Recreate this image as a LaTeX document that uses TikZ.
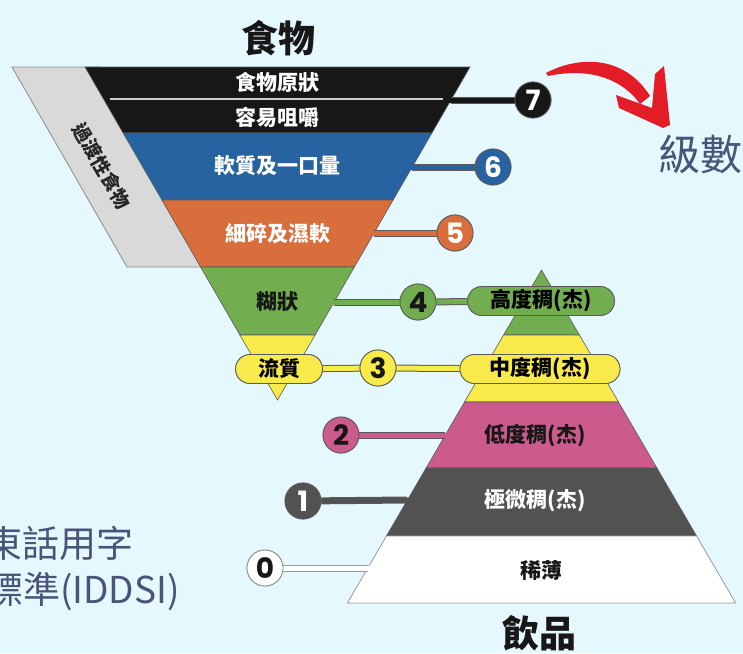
\documentclass[tikz,border=0pt]{standalone}
\usepackage{fontspec}
\usetikzlibrary{shapes.misc}
\newfontfamily\cjk{Noto Sans CJK TC}
\newfontfamily\numf{Poppins}
\definecolor{bgc}{HTML}{E5F8FD}
\definecolor{cblack}{HTML}{171717}
\definecolor{cblue}{HTML}{2763A0}
\definecolor{corange}{HTML}{D86E3C}
\definecolor{cgreen}{HTML}{72AD4F}
\definecolor{cyellow}{HTML}{F8EA4A}
\definecolor{cpink}{HTML}{CC5A8C}
\definecolor{cdark}{HTML}{525252}
\definecolor{cgray}{HTML}{D9D9D9}
\definecolor{cred}{HTML}{E31C27}
\definecolor{slate}{HTML}{4A5478}
\definecolor{edgec}{HTML}{5A5A5A}
\tikzset{
  band/.style={draw=edgec, line width=0.6pt},
  badge/.style={circle, minimum size=36pt, inner sep=0pt, draw=edgec, line width=0.8pt,
    font=\numf\bfseries\fontsize{28}{28}\selectfont},
  pill/.style={rounded rectangle, minimum height=29pt, inner sep=0pt, draw=edgec, line width=0.8pt,
    font=\cjk\bfseries\fontsize{21}{21}\selectfont},
  lbl/.style={font=\cjk\bfseries\fontsize{21}{21}\selectfont, inner sep=0pt},
  connout/.style={draw=edgec, line width=7pt},
  conn/.style={line width=5pt},
  title/.style={font=\cjk\bfseries\fontsize{37}{37}\selectfont, text=cblack, inner sep=0pt},
  side/.style={font=\cjk\fontsize{37}{37}\selectfont, text=slate, inner sep=0pt}
}
\begin{document}
\begin{tikzpicture}[x=1pt,y=-1pt]
\useasboundingbox (0,0) rectangle (743,653);
\fill[bgc] (0,0) rectangle (743,653);
\clip (0,0) rectangle (743,653);

% red arrow
\fill[cred] (546,73) .. controls (580,55) and (625,56) .. (650,96)
  -- (640,104) .. controls (620,76) and (585,68) .. (548,76) -- cycle;
\fill[cred] (616,95) -- (652,108) -- (655,74) -- (664,66) -- (670,125) -- (663,128) -- (619,108) -- cycle;

% transitional food parallelogram
\draw[fill=cgray, draw=black!45, line width=0.8pt] (12,67) -- (100,67) -- (215,267) -- (127,267) -- cycle;
\node[font=\cjk\bfseries\fontsize{19}{19}\selectfont, text=black!85, rotate=-60] (trans) at (102,166) {過渡性食物};

% funnel bands
\fill[cblack, band] (85,67) -- (470,67) -- (431.9,133) -- (123.1,133) -- cycle;
\fill[cblue, band] (123.1,133) -- (431.9,133) -- (393.1,200) -- (161.9,200) -- cycle;
\fill[corange, band] (161.9,200) -- (393.1,200) -- (354.4,267) -- (200.6,267) -- cycle;
\fill[cgreen, band] (200.6,267) -- (354.4,267) -- (315.1,335) -- (239.9,335) -- cycle;
\fill[cyellow, band] (239.9,335) -- (315.1,335) -- (277.5,400) -- cycle;
\draw[white!80!black, line width=1.6pt] (110,99) -- (448,99);

% pyramid bands
\fill[cgreen, band] (541.5,270) -- (579.4,335) -- (503.6,335) -- cycle;
\fill[cyellow, band] (503.6,335) -- (579.4,335) -- (618.5,402) -- (464.5,402) -- cycle;
\fill[cpink, band] (464.5,402) -- (618.5,402) -- (656.9,468) -- (426.1,468) -- cycle;
\fill[cdark, band] (426.1,468) -- (656.9,468) -- (696.6,536) -- (386.4,536) -- cycle;
\fill[white, draw=black!40, line width=0.8pt] (386.4,536) -- (696.6,536) -- (735.6,603) -- (347.4,603) -- cycle;

% edge coordinates
\coordinate (e7) at (451,100);  \coordinate (i7) at (443,100);
\coordinate (e6) at (412,167);  \coordinate (i6) at (404,167);
\coordinate (e5) at (374,233);  \coordinate (i5) at (366,233);
\coordinate (e4) at (334,302);  \coordinate (i4) at (326,302);
\coordinate (e2) at (445,435);  \coordinate (i2) at (453,435);
\coordinate (e1) at (407,500);  \coordinate (i1) at (415,500);
\coordinate (e0) at (368,568);  \coordinate (i0) at (376,568);

% badge and pill outlines (named, used as connector ends)
\path (533,100) node[badge] (c7) {};
\path (493,167) node[badge] (c6) {};
\path (455,233) node[badge] (c5) {};
\path (418,302) node[badge] (c4) {};
\path (378,368) node[badge] (c3) {};
\path (341,435) node[badge] (c2) {};
\path (303,501) node[badge] (c1) {};
\path (265,568) node[badge, draw=black!45] (c0) {};
\node[pill, minimum width=147pt] (p4) at (541,301) {};
\node[pill, minimum width=160pt] (p3b) at (540,369) {};
\node[pill, minimum width=87pt] (p3a) at (279,369) {};

% connectors
\draw[connout] (e7) -- (c7); \draw[conn, cblack] (i7) -- (c7);
\draw[connout] (e6) -- (c6); \draw[conn, cblue] (i6) -- (c6);
\draw[connout] (e5) -- (c5); \draw[conn, corange] (i5) -- (c5);
\draw[connout] (e4) -- (c4); \draw[conn, cgreen] (i4) -- (c4);
\draw[connout] (c4) -- (p4); \draw[conn, cgreen] (c4) -- (p4);
\draw[connout] (p3a) -- (c3); \draw[conn, cyellow] (p3a) -- (c3);
\draw[connout] (c3) -- (p3b); \draw[conn, cyellow] (c3) -- (p3b);
\draw[connout] (c2) -- (e2); \draw[conn, cpink] (c2) -- (i2);
\draw[connout] (c1) -- (e1); \draw[conn, cdark] (c1) -- (i1);
\draw[connout, draw=black!40] (c0) -- (e0); \draw[conn, white] (c0) -- (i0);

% badges and pills on top
\node[badge, fill=cblack, text=white] (d7) at (c7) {7};
\node[badge, fill=cblue, text=white] (d6) at (c6) {6};
\node[badge, fill=corange, text=white] (d5) at (c5) {5};
\node[badge, fill=cgreen, text=cblack] (d4) at (c4) {4};
\node[badge, fill=cyellow, text=cblack] (d3) at (c3) {3};
\node[badge, fill=cpink, text=cblack] (d2) at (c2) {2};
\node[badge, fill=cdark, text=white] (d1) at (c1) {1};
\node[badge, fill=white, text=cblack, draw=black!45] (d0) at (c0) {0};
\node[pill, fill=cgreen, minimum width=147pt] (q4) at (p4) {高度稠(杰)};
\node[pill, fill=cyellow, minimum width=160pt] (q3b) at (p3b) {中度稠(杰)};
\node[pill, fill=cyellow, minimum width=87pt] (q3a) at (p3a) {流質};

% band labels
\node[lbl, text=white] (l7a) at (277.5,82) {食物原狀};
\node[lbl, text=white] (l7b) at (277.5,117) {容易咀嚼};
\node[lbl, text=white] (l6) at (277.5,166) {軟質及一口量};
\node[lbl, text=white] (l5) at (277.5,234) {細碎及濕軟};
\node[lbl, text=cblack] (l4) at (277.5,302) {糊狀};
\node[lbl, text=cblack] (l2) at (535,436) {低度稠(杰)};
\node[lbl, text=white] (l1) at (535,501) {極微稠(杰)};
\node[lbl, text=cblack] (l0) at (541,570) {稀薄};

% titles
\node[title] (food) at (278,38) {食物};
\node[title] (drink) at (539,633) {飲品};
\node[font=\cjk\fontsize{42}{42}\selectfont, text=slate, inner sep=0pt] (lvl) at (700,154) {級數};
\node[side, anchor=base east] (s1) at (134,557) {東話用字};
\node[side, anchor=base east] (s2) at (180,603) {標準(IDDSI)};
\end{tikzpicture}
\end{document}
